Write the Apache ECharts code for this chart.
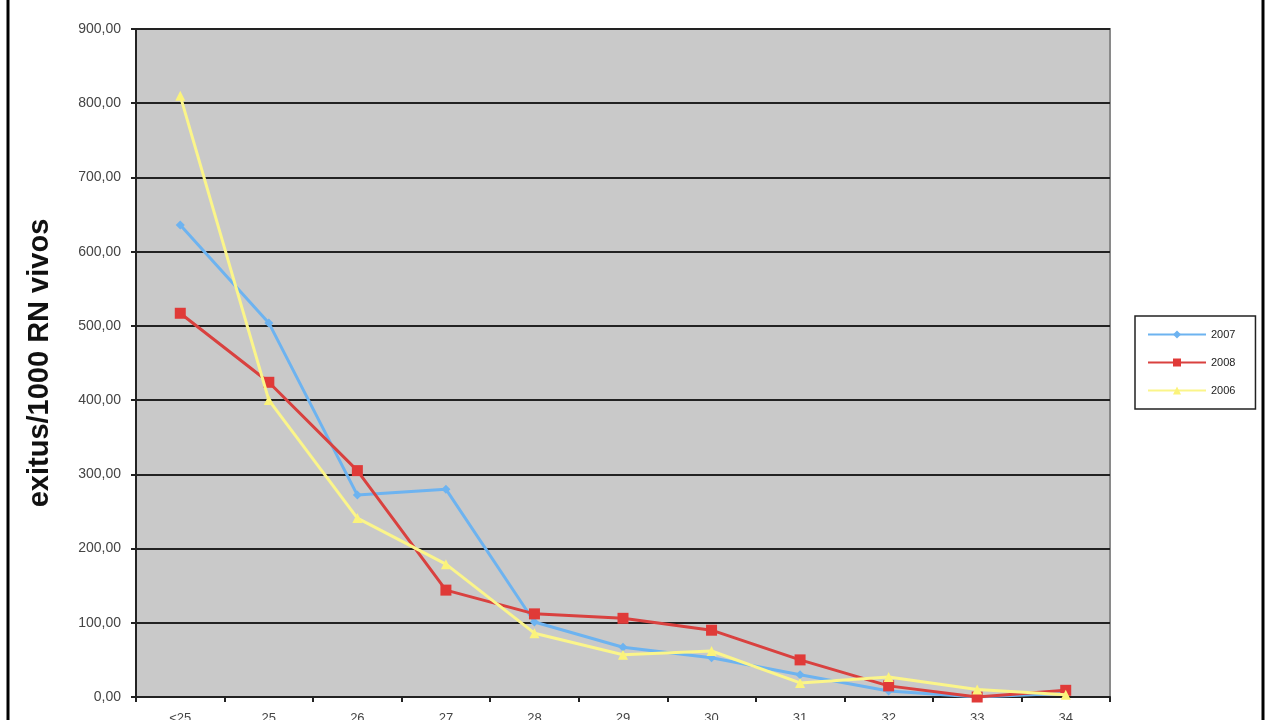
<!DOCTYPE html>
<html><head><meta charset="utf-8">
<script src="https://cdn.jsdelivr.net/npm/echarts@6/dist/echarts.min.js"></script>
<style>html,body{margin:0;padding:0;background:#fff}#c{width:1280px;height:720px}</style>
</head><body><div id="c"></div>
<script>
const categories = ['<25','25','26','27','28','29','30','31','32','33','34'];
const s2007 = [636, 504, 272, 280, 101, 67, 53, 30, 8, 0, 5];
const s2008 = [517, 424, 305, 144, 112, 106, 90, 50, 15, 0, 9];
const s2006 = [810, 400, 241, 179, 86, 57, 62, 19, 27, 10, 3];
const yTicks = [0, 900, 100];
const chart = echarts.init(document.getElementById('c'));
const fmt = v => v.toFixed(2).replace('.', ',');
chart.setOption({
  animation: false,
  backgroundColor: '#fff',
  graphic: [
    {type:'rect', shape:{x:8,y:-10,width:1255,height:745}, style:{fill:'none', stroke:'#000', lineWidth:3}, z:-1}
  ],
  grid: {left:136, right:170, top:29, bottom:23, outerBoundsMode:'none', containLabel:false,
    show:true, backgroundColor:'#c9c9c9', borderColor:'#8a8a8a', borderWidth:2},
  legend: {
    orient:'vertical', left:1135, top:316,
    padding:[13,20,13,12], itemGap:17,
    borderColor:'#222', borderWidth:1.5, backgroundColor:'#fff',
    itemWidth:58, itemHeight:10,
    textStyle:{fontSize:11, color:'#222', fontFamily:'Liberation Sans'},
    data:['2007','2008','2006']
  },
  xAxis: {
    type:'category', data:categories, boundaryGap:true,
    axisLine:{lineStyle:{color:'#222', width:2}},
    axisTick:{show:true, lineStyle:{color:'#222', width:2}, length:5},
    axisLabel:{color:'#444', fontSize:13, margin:15, fontFamily:'Liberation Sans'}
  },
  yAxis: {
    type:'value', min:yTicks[0], max:yTicks[1], interval:yTicks[2],
    axisLine:{show:true, lineStyle:{color:'#222', width:2}},
    axisTick:{show:true, lineStyle:{color:'#222', width:2}, length:5},
    axisLabel:{color:'#444', fontSize:14, margin:15, formatter:fmt, fontFamily:'Liberation Sans'},
    splitLine:{lineStyle:{color:'#222', width:2}},
    name:'exitus/1000 RN vivos', nameLocation:'middle', nameGap:82, nameRotate:90,
    nameTextStyle:{fontSize:29, fontWeight:'bold', color:'#111', fontFamily:'Liberation Sans'}
  },
  series: [
    {name:'2007', type:'line', data:s2007, symbol:'diamond', symbolSize:9,
      lineStyle:{color:'#6db3f0', width:3}, itemStyle:{color:'#6db3f0'}, z:2},
    {name:'2008', type:'line', data:s2008, symbol:'rect', symbolSize:11,
      lineStyle:{color:'#d9413f', width:3}, itemStyle:{color:'#e03a38'}, z:3},
    {name:'2006', type:'line', data:s2006, symbol:'triangle', symbolSize:10,
      lineStyle:{color:'#fbf58a', width:3}, itemStyle:{color:'#fbf37a'}, z:4}
  ]
});
</script></body></html>
